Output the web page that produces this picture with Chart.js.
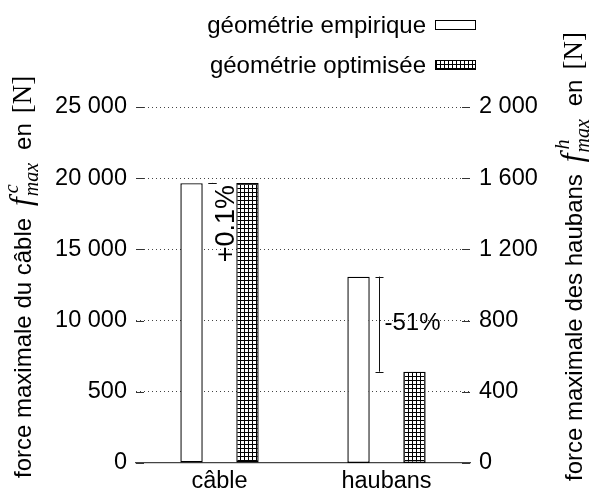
<!DOCTYPE html>
<html>
<head>
<meta charset="utf-8">
<script src="https://cdn.jsdelivr.net/npm/chart.js@4.4.1/dist/chart.umd.min.js"></script>
<style>
  html, body { margin: 0; padding: 0; background: #fff; }
</style>
</head>
<body>
<canvas id="chart" width="590" height="489"></canvas>
<script>
const categories = ['câble', 'haubans'];
const seriesNames = ['géométrie empirique', 'géométrie optimisée'];
// maximum force in N: cable read on the left axis, stays on the right axis
const cableForce = [19650, 19670];
const stayForce = [1047, 513];
const changeLabels = ['+0.1%', '-51%'];
const leftTickLabels = ['0', '500', '10 000', '15 000', '20 000', '25 000'];
const rightTickLabels = ['0', '400', '800', '1 200', '1 600', '2 000'];

const SANS = "'Liberation Sans', Arial, sans-serif";
const SERIF = "'Liberation Serif', 'Times New Roman', serif";
const INK = '#000';

const canvas = document.getElementById('chart');
const ctx = canvas.getContext('2d');

// small square grid used for the optimised geometry
function makeHatch() {
  const tile = document.createElement('canvas');
  tile.width = 4;
  tile.height = 4;
  const g = tile.getContext('2d');
  g.fillStyle = '#fff';
  g.fillRect(0, 0, 4, 4);
  g.fillStyle = '#000';
  g.fillRect(0, 0, 4, 1);
  g.fillRect(0, 0, 1, 4);
  return ctx.createPattern(tile, 'repeat');
}
const hatch = makeHatch();

function barSet(label, data, axis, fill) {
  return {
    label,
    data,
    yAxisID: axis,
    backgroundColor: fill,
    borderColor: '#000',
    borderWidth: 1.4,
    borderSkipped: false,
    skipNull: true,
    categoryPercentage: 0.67,
    barPercentage: 0.4
  };
}

// draws a rotated title made of several runs (sans text, math italic, sub/superscripts)
function drawRunsUp(c, runs, x, yStart) {
  c.save();
  c.translate(x, yStart);
  c.rotate(-Math.PI / 2);
  c.textAlign = 'left';
  c.textBaseline = 'alphabetic';
  c.fillStyle = INK;
  let pos = 0;
  for (const r of runs) {
    c.font = r.font;
    const dx = r.dx || 0;
    c.fillText(r.text, pos + dx, r.dy || 0);
    if (r.advance !== false) pos += dx + c.measureText(r.text).width;
  }
  c.restore();
}

function titleRuns(words, sup) {
  return [
    { text: words, font: `24px ${SANS}` },
    { text: 'f', font: `italic 31px ${SERIF}`, dx: 12 },
    { text: sup, font: `italic 20px ${SERIF}`, dx: 4, dy: -13, advance: false },
    { text: 'max', font: `italic 20px ${SERIF}`, dx: 1, dy: 7 },
    { text: 'en', font: `24px ${SANS}`, dx: 13 },
    { text: '[N]', font: `27px ${SERIF}`, dx: 10 }
  ];
}

const decorations = {
  id: 'decorations',
  afterDatasetsDraw(chart) {
    const c = chart.ctx;
    const area = chart.chartArea;
    const yL = chart.scales.yL;
    const yR = chart.scales.yR;

    // inward solid tick marks on both vertical borders
    c.save();
    c.strokeStyle = '#333';
    c.lineWidth = 1;
    yL.ticks.forEach((t) => {
      const y = Math.round(yL.getPixelForValue(t.value)) + 0.5;
      c.beginPath();
      c.moveTo(area.left, y);
      c.lineTo(area.left + 8, y);
      c.moveTo(area.right - 8, y);
      c.lineTo(area.right, y);
      c.stroke();
    });
    c.restore();

    // change brackets between empirical and optimised bars
    const pairs = [
      { bar: chart.getDatasetMeta(0).data[0], scale: yL, from: cableForce[0], to: cableForce[1] },
      { bar: chart.getDatasetMeta(2).data[1], scale: yR, from: stayForce[0], to: stayForce[1] }
    ];
    c.save();
    c.strokeStyle = '#111';
    c.lineWidth = 1;
    c.fillStyle = INK;
    pairs.forEach((p, i) => {
      const bx = Math.round(p.bar.x + p.bar.width / 2 + 9) + 0.5;
      const y1 = p.scale.getPixelForValue(p.from);
      const y2 = p.scale.getPixelForValue(p.to);
      c.beginPath();
      c.moveTo(bx, y1);
      c.lineTo(bx, y2);
      c.moveTo(bx - 4, Math.round(y1) + 0.5);
      c.lineTo(bx + 4, Math.round(y1) + 0.5);
      c.moveTo(bx - 4, Math.round(y2) + 0.5);
      c.lineTo(bx + 4, Math.round(y2) + 0.5);
      c.stroke();
      if (Math.abs(y2 - y1) < 20) {
        c.save();
        c.font = `27px ${SANS}`;
        c.translate(bx + 21, Math.min(y1, y2) + 2);
        c.rotate(-Math.PI / 2);
        c.textAlign = 'right';
        c.textBaseline = 'alphabetic';
        c.fillText(changeLabels[i], 0, 0);
        c.restore();
      } else {
        c.font = `24px ${SANS}`;
        c.textAlign = 'left';
        c.textBaseline = 'middle';
        c.fillText(changeLabels[i], bx + 5, (y1 + y2) / 2 - 1);
      }
    });
    c.restore();
  },
  afterDraw(chart) {
    const c = chart.ctx;
    // legend: label on the left, swatch on the right
    const rows = [
      { text: seriesNames[0], fill: '#fff', y: 20 },
      { text: seriesNames[1], fill: hatch, y: 60 }
    ];
    c.save();
    c.font = `24px ${SANS}`;
    c.textAlign = 'right';
    c.textBaseline = 'alphabetic';
    rows.forEach((r) => {
      c.fillStyle = INK;
      c.fillText(r.text, 426, r.y + 13);
      c.fillStyle = r.fill;
      c.fillRect(435, r.y, 40, 9);
      c.strokeStyle = '#000';
      c.lineWidth = 1;
      c.strokeRect(435.5, r.y + 0.5, 40, 9);
    });
    c.restore();

    drawRunsUp(c, titleRuns('force maximale du câble', 'c'), 31, 478);
    drawRunsUp(c, titleRuns('force maximale des haubans', 'h'), 582, 481);
  }
};

new Chart(ctx, {
  type: 'bar',
  data: {
    labels: categories,
    datasets: [
      barSet(seriesNames[0], [cableForce[0], null], 'yL', '#fff'),
      barSet(seriesNames[1], [cableForce[1], null], 'yL', hatch),
      barSet(seriesNames[0], [null, stayForce[0]], 'yR', '#fff'),
      barSet(seriesNames[1], [null, stayForce[1]], 'yR', hatch)
    ]
  },
  options: {
    responsive: false,
    animation: false,
    layout: { padding: { top: 107, left: 0, right: 0, bottom: 0 } },
    plugins: {
      legend: { display: false },
      tooltip: { enabled: false }
    },
    scales: {
      x: {
        grid: { display: false, drawTicks: false },
        border: { display: true, color: '#444', width: 1.2 },
        ticks: { color: INK, font: { family: SANS, size: 23.5 }, padding: 4 },
        afterFit(scale) { scale.height = 26; }
      },
      yL: {
        position: 'left',
        min: 0,
        max: 25000,
        grid: {
          drawTicks: false,
          color: (c) => (c.tick && c.tick.value === 0 ? 'rgba(0,0,0,0)' : '#444'),
          lineWidth: 1
        },
        border: { display: false, dash: [1, 3] },
        ticks: {
          stepSize: 5000,
          padding: 9,
          color: INK,
          font: { family: SANS, size: 23.5 },
          callback: (v, i) => leftTickLabels[i]
        },
        afterFit(scale) { scale.width = 136; }
      },
      yR: {
        position: 'right',
        min: 0,
        max: 2000,
        grid: { display: false, drawTicks: false },
        border: { display: false },
        ticks: {
          stepSize: 400,
          padding: 9,
          color: INK,
          font: { family: SANS, size: 23.5 },
          callback: (v, i) => rightTickLabels[i]
        },
        afterFit(scale) { scale.width = 120; }
      }
    }
  },
  plugins: [decorations]
});
</script>
</body>
</html>
